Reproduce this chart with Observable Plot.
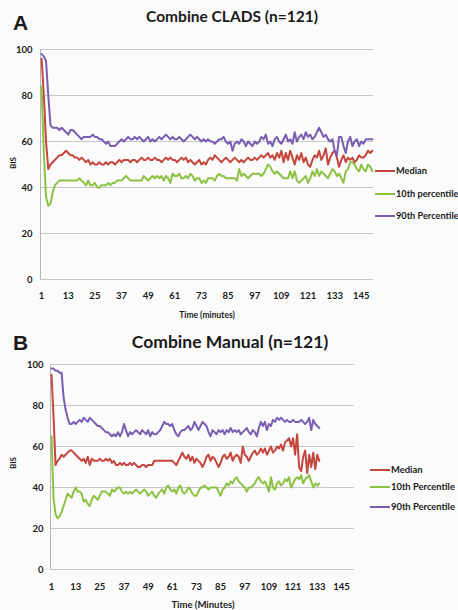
<!DOCTYPE html>
<html>
<head>
<meta charset="utf-8">
<script src="https://cdn.jsdelivr.net/npm/d3@7"></script>
<script src="https://cdn.jsdelivr.net/npm/@observablehq/plot@0.6"></script>
<style>
  html, body { margin: 0; padding: 0; background: #fbfbfb; }
  #page { position: relative; width: 458px; height: 610px; overflow: hidden; background: #fbfbfb; }
  #page > div.panel { position: absolute; left: 0; }
  #overlay { position: absolute; left: 0; top: 0; pointer-events: none; }
  #overlay text { font-family: Lato, "Open Sans", sans-serif; font-weight: bold; fill: #1a1a1a; }
</style>
</head>
<body>
<div id="page">
  <div class="panel" id="panelA" style="top:0"></div>
  <div class="panel" id="panelB" style="top:325px"></div>
  <svg id="overlay" width="458" height="610"></svg>
</div>
<script>
// BIS per minute, panel A (CLADS)
const medianA = [
  96, 80, 60, 48, 50, 51, 52, 53, 54, 54,
  55, 56, 55, 54, 54, 53, 53, 52, 53, 52,
  51, 52, 50, 51, 50, 50, 51, 50, 50, 51,
  50, 51, 51, 50, 51, 52, 51, 52, 52, 52,
  51, 52, 52, 51, 52, 53, 52, 52, 53, 52,
  52, 53, 52, 52, 51, 52, 53, 52, 53, 52,
  52, 51, 52, 53, 52, 53, 51, 52, 51, 50,
  51, 52, 50, 51, 50, 52, 53, 52, 54, 53,
  52, 51, 52, 53, 52, 51, 52, 53, 52, 51,
  52, 51, 52, 53, 52, 52, 53, 52, 53, 54,
  53, 54, 55, 53, 54, 52, 55, 53, 56, 51,
  55, 52, 56, 53, 50, 54, 52, 55, 51, 53,
  50, 49, 52, 54, 53, 56, 52, 54, 57, 50,
  53, 55, 56, 53, 49, 52, 54, 51, 53, 52,
  53, 51, 52, 54, 53, 53, 54, 56, 55, 56
];
const p10A = [
  84, 55, 36, 32, 33, 38, 41, 42, 43, 43,
  43, 43, 43, 43, 43, 43, 43, 44, 43, 42,
  41, 43, 41, 41, 42, 40, 40, 41, 41, 41,
  42, 41, 42, 42, 43, 43, 43, 44, 45, 44,
  43, 43, 43, 43, 43, 43, 45, 44, 43, 44,
  45, 44, 45, 44, 45, 43, 45, 44, 42, 46,
  45, 45, 46, 44, 44, 45, 44, 46, 45, 43,
  44, 44, 42, 43, 42, 44, 44, 44, 43, 45,
  46, 45, 45, 44, 44, 44, 44, 44, 43, 48,
  45, 46, 45, 44, 45, 46, 46, 46, 46, 45,
  46, 48, 50, 49, 47, 46, 47, 46, 45, 44,
  44, 44, 47, 44, 47, 43, 42, 43, 44, 45,
  42, 44, 47, 45, 48, 45, 47, 46, 45, 44,
  46, 48, 47, 45, 46, 44, 42, 47, 48, 51,
  51, 50, 48, 47, 50, 48, 47, 50, 49, 47
];
const p90A = [
  98, 97, 95, 80, 67, 66, 66, 66, 65, 66,
  65, 64, 63, 65, 65, 64, 63, 62, 61, 62,
  62, 62, 62, 63, 62, 62, 61, 61, 60, 59,
  60, 58, 58, 58, 59, 60, 61, 60, 61, 62,
  61, 61, 62, 61, 62, 61, 60, 61, 62, 60,
  61, 60, 61, 62, 61, 62, 63, 62, 61, 62,
  61, 61, 62, 61, 60, 61, 62, 63, 62, 61,
  62, 61, 60, 61, 60, 61, 60, 60, 59, 60,
  61, 61, 62, 60, 59, 60, 56, 59, 60, 59,
  61, 60, 58, 60, 59, 58, 60, 59, 60, 62,
  61, 63, 59, 60, 58, 61, 62, 60, 59, 61,
  63, 60, 61, 59, 64, 60, 62, 63, 61, 64,
  62, 63, 61, 62, 64, 66, 64, 62, 63, 61,
  60, 61, 56, 54, 62, 62, 58, 55, 60, 62,
  58, 60, 61, 58, 60, 59, 61, 61, 61, 61
];

// BIS per minute, panel B (manual)
const medianB = [
  95, 75, 51, 53, 54, 56, 55, 56, 57, 58,
  58, 57, 56, 55, 54, 53, 54, 52, 55, 51,
  54, 53, 53, 53, 54, 53, 53, 54, 53, 54,
  52, 53, 51, 51, 52, 51, 52, 51, 51, 52,
  51, 52, 51, 50, 50, 51, 51, 50, 51, 51,
  51, 53, 53, 53, 53, 53, 53, 53, 53, 53,
  53, 52, 51, 53, 55, 57, 55, 54, 56, 53,
  55, 52, 54, 53, 52, 50, 52, 55, 56, 53,
  55, 54, 52, 50, 52, 55, 56, 54, 55, 57,
  53, 55, 56, 55, 52, 60, 56, 55, 53, 55,
  57, 58, 56, 57, 59, 57, 59, 56, 58, 60,
  57, 58, 60, 59, 61, 58, 62, 63, 64, 60,
  64, 56, 66, 50, 48, 55, 58, 47, 56, 50,
  57, 49, 56, 53
];
const p10B = [
  65, 35, 27, 25, 26, 28, 31, 34, 37, 36,
  35, 38, 40, 38, 38, 37, 33, 34, 32, 31,
  34, 36, 35, 34, 36, 38, 38, 38, 37, 36,
  39, 38, 39, 40, 40, 38, 37, 38, 37, 38,
  37, 38, 39, 38, 37, 38, 39, 38, 36, 37,
  38, 36, 35, 37, 38, 39, 37, 40, 41, 39,
  38, 39, 37, 40, 41, 38, 37, 38, 40, 39,
  37, 36, 36, 38, 40, 40, 41, 40, 39, 40,
  40, 40, 40, 38, 36, 39, 40, 42, 41, 43,
  42, 44, 45, 43, 42, 41, 40, 38, 40, 40,
  41, 42, 44, 45, 43, 42, 43, 41, 38, 45,
  40, 39, 42, 43, 41, 42, 44, 43, 45, 40,
  42, 44, 45, 44, 46, 42, 44, 45, 46, 43,
  40, 42, 41, 42
];
const p90B = [
  98, 98, 97, 97, 96, 96, 84, 78, 74, 71,
  71, 72, 71, 72, 73, 72, 74, 73, 72, 74,
  73, 72, 71, 70, 70, 69, 68, 67, 67, 66,
  65, 66, 65, 67, 65, 67, 71, 68, 65, 67,
  66, 67, 68, 67, 66, 68, 67, 66, 68, 65,
  67, 66, 66, 67, 68, 70, 72, 71, 71, 70,
  71, 68, 66, 65, 67, 68, 68, 69, 70, 68,
  69, 72, 70, 68, 70, 72, 71, 70, 67, 65,
  68, 67, 66, 68, 67, 68, 66, 68, 67, 69,
  67, 68, 67, 68, 66, 67, 68, 69, 67, 66,
  68, 67, 65, 69, 72, 70, 72, 68, 71, 70,
  73, 72, 74, 73, 74, 73, 72, 73, 72, 72,
  73, 72, 72, 72, 73, 72, 71, 72, 74, 68,
  73, 71, 70, 69
];

const minuteTicks = [1, 13, 25, 37, 49, 61, 73, 85, 97, 109, 121, 133, 145];
const bisTicks = [0, 20, 40, 60, 80, 100];

const colors = { median: "#c4463d", p10: "#8cc243", p90: "#7a5db0" };

function panel({ series, categories, height, marginLeft, marginRight, marginTop, marginBottom, xPad, yPad }) {
  const minutes = d3.range(1, series[0].values.length + 1);
  return Plot.plot({
    width: 458,
    height,
    marginLeft, marginRight, marginTop, marginBottom,
    style: { background: "transparent", fontFamily: "Lato, 'Open Sans', sans-serif", fontWeight: "bold", fontSize: "9.5px", color: "#1a1a1a" },
    x: { domain: [0.5, categories + 0.5] },
    y: { domain: [0, 100] },
    marks: [
      Plot.ruleY(bisTicks, { stroke: "#c6c6c6", strokeWidth: 1 }),
      Plot.ruleX([0.5], { stroke: "#b4b4b4", strokeWidth: 1 }),
      Plot.axisX(minuteTicks, { tickSize: 0, tickPadding: xPad, label: null }),
      Plot.axisY(bisTicks, { tickSize: 0, tickPadding: yPad, label: null }),
      ...series.map(s => Plot.line(s.values, {
        x: (d, i) => minutes[i],
        y: d => d,
        stroke: s.color,
        strokeWidth: 2
      }))
    ]
  });
}

document.getElementById("panelA").append(panel({
  series: [
    { values: medianA, color: colors.median },
    { values: p10A, color: colors.p10 },
    { values: p90A, color: colors.p90 }
  ],
  categories: 150,
  height: 325, marginLeft: 40, marginRight: 85, marginTop: 49, marginBottom: 46,
  xPad: 13, yPad: 8
}));

document.getElementById("panelB").append(panel({
  series: [
    { values: medianB, color: colors.median },
    { values: p10B, color: colors.p10 },
    { values: p90B, color: colors.p90 }
  ],
  categories: 151,
  height: 285, marginLeft: 50, marginRight: 104, marginTop: 39, marginBottom: 41,
  xPad: 14, yPad: 7
}));

// Titles, panel letters, axis titles and legends
const svg = d3.select("#overlay");
const labels = [
  { t: "A", x: 13, y: 30, size: 21, anchor: "start", family: "'Liberation Sans', Arial, sans-serif" },
  { t: "Combine CLADS (n=121)", x: 232, y: 22, size: 15.5, anchor: "middle" },
  { t: "Time (minutes)", x: 207, y: 318, size: 8.5, anchor: "middle" },
  { t: "B", x: 13, y: 350, size: 21, anchor: "start", family: "'Liberation Sans', Arial, sans-serif" },
  { t: "Combine Manual (n=121)", x: 230, y: 348, size: 17.5, anchor: "middle" },
  { t: "Time (Minutes)", x: 203, y: 608, size: 9.5, anchor: "middle" }
];
labels.forEach(l => {
  svg.append("text")
    .attr("x", l.x).attr("y", l.y)
    .attr("text-anchor", l.anchor)
    .style("font-size", l.size + "px")
    .style("font-family", l.family || null)
    .text(l.t);
});
[{ x: 13, y: 163 }, { x: 13, y: 463 }].forEach(p => {
  svg.append("text")
    .attr("transform", `translate(${p.x + 3},${p.y}) rotate(-90)`)
    .attr("text-anchor", "middle")
    .style("font-size", "8px")
    .text("BIS");
});

const legendA = [
  { t: "Median", c: colors.median, y: 171 },
  { t: "10th percentile", c: colors.p10, y: 194 },
  { t: "90th Percentile", c: colors.p90, y: 216 }
];
const legendB = [
  { t: "Median", c: colors.median, y: 470 },
  { t: "10th Percentile", c: colors.p10, y: 487 },
  { t: "90th Percentile", c: colors.p90, y: 507 }
];
function legend(items, x0, x1, size) {
  items.forEach(it => {
    svg.append("line").attr("x1", x0).attr("x2", x1).attr("y1", it.y).attr("y2", it.y)
      .attr("stroke", it.c).attr("stroke-width", 2);
    svg.append("text").attr("x", x1 + 1).attr("y", it.y + 3.3)
      .style("font-size", size + "px").text(it.t);
  });
}
legend(legendA, 375, 395, 9.2);
legend(legendB, 370, 390, 9.4);
</script>
</body>
</html>
